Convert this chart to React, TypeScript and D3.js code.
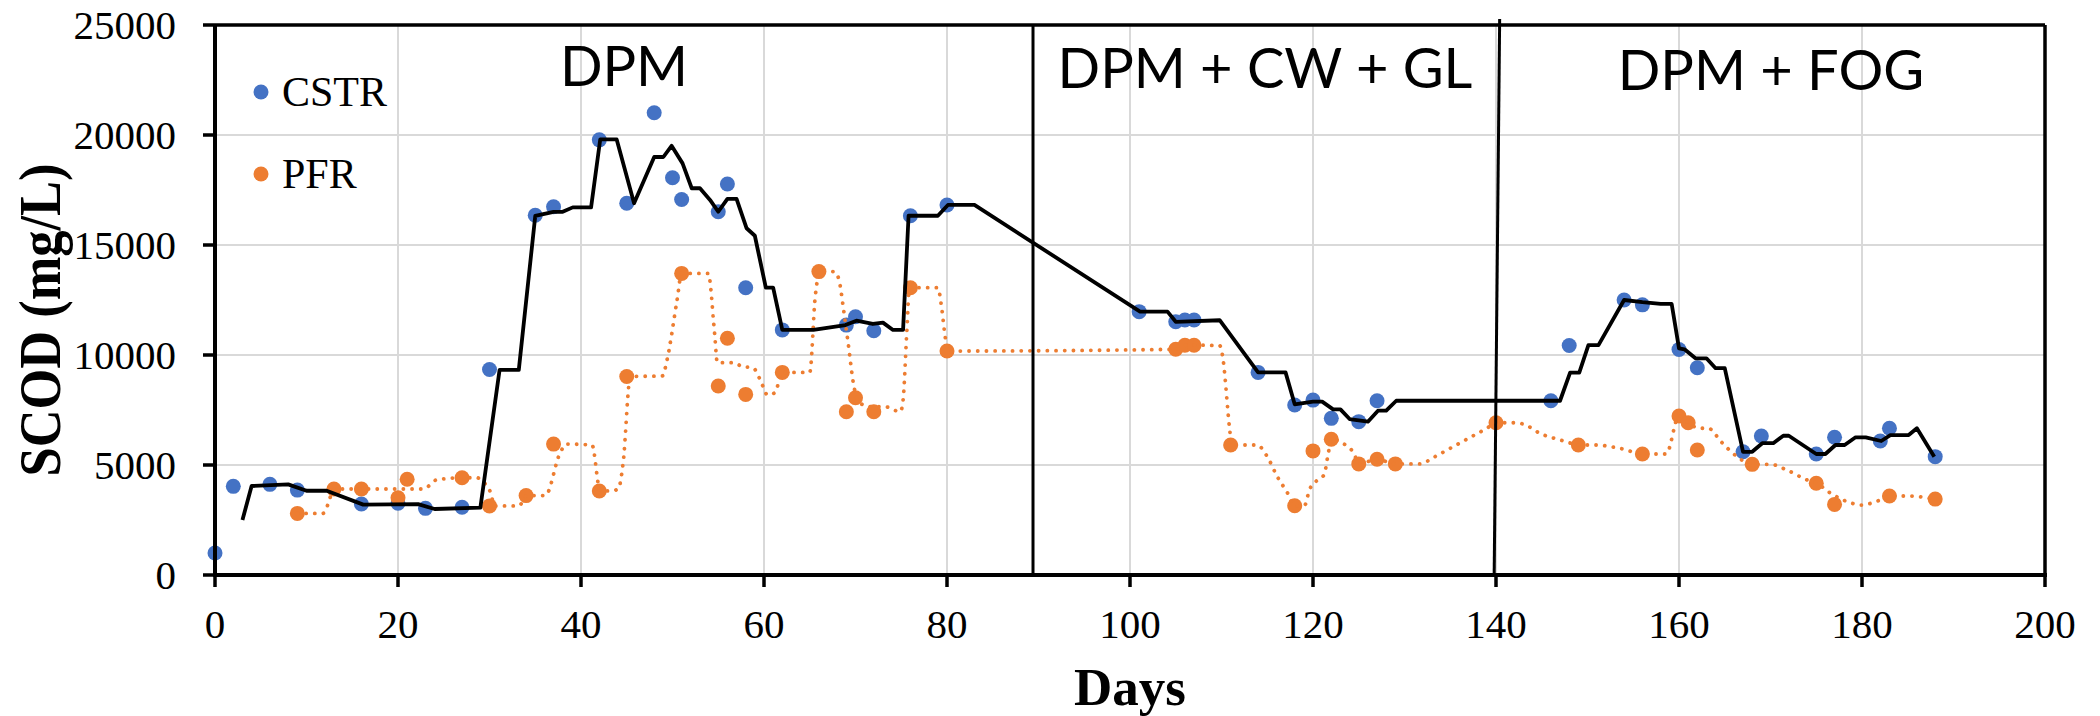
import React from 'react';
import * as d3 from 'd3';

// CSTR measured SCOD (mg/L)
const cstrDays = [0, 2, 6, 9, 16, 20, 23, 27, 30, 35, 37, 42, 45, 48, 50, 51, 55, 56, 58, 62, 69, 70, 72, 76, 80, 101, 105, 106, 107, 114, 118, 120, 122, 125, 127, 146, 148, 154, 156, 160, 162, 167, 169, 175, 177, 182, 183, 188];
const cstrValues = [1000, 4030, 4120, 3860, 3230, 3260, 3030, 3080, 9340, 16350, 16740, 19780, 16900, 21010, 18060, 17070, 16510, 17770, 13060, 11140, 11360, 11740, 11100, 16330, 16820, 11970, 11510, 11590, 11590, 9210, 7730, 7950, 7120, 6970, 7920, 7920, 10430, 12500, 12280, 10250, 9420, 5600, 6320, 5500, 6260, 6090, 6670, 5380];

// PFR measured SCOD (mg/L)
const pfrDays = [9, 13, 16, 20, 21, 27, 30, 34, 37, 42, 45, 51, 55, 56, 58, 62, 66, 69, 70, 72, 76, 80, 105, 106, 107, 111, 118, 120, 122, 125, 127, 129, 140, 149, 156, 160, 161, 162, 168, 175, 177, 183, 188];
const pfrValues = [2800, 3910, 3910, 3510, 4350, 4420, 3140, 3610, 5950, 3820, 9020, 13710, 8590, 10760, 8210, 9210, 13790, 7420, 8060, 7420, 13060, 10180, 10260, 10440, 10440, 5910, 3150, 5640, 6170, 5050, 5260, 5050, 6920, 5910, 5500, 7230, 6920, 5680, 5030, 4170, 3210, 3590, 3450];

// trend line of CSTR (solid black)
const cstrTrendDays = [3, 4, 8, 10, 12.2, 16.2, 22.2, 24, 29, 31.1, 33.2, 35, 37, 38, 39.1, 41.1, 42.1, 43.9, 45.8, 48, 49, 49.9, 51.1, 52.1, 53, 54.1, 55, 56, 57, 58.1, 59, 60.2, 61, 62, 65.4, 68.9, 70.1, 71.9, 73, 74.1, 75.2, 75.8, 79, 80.1, 83, 101.1, 104.1, 105, 109.8, 114, 117, 118, 120, 121, 122.2, 123, 124, 126, 127.1, 128, 129.1, 147, 148.1, 149.1, 150.1, 151.2, 154, 156, 158, 159.2, 160, 160.6, 161.8, 163, 164, 165, 167, 168, 169.1, 170.3, 171.4, 172, 175, 176, 177.1, 178.1, 179.3, 180.4, 182.1, 183.1, 185.1, 186, 187.9];
const cstrTrendValues = [2500, 4045, 4120, 3830, 3830, 3200, 3220, 3000, 3060, 9320, 9320, 16320, 16510, 16510, 16710, 16710, 19800, 19800, 16900, 19000, 19000, 19510, 18710, 17580, 17580, 17050, 16510, 17100, 17100, 15760, 15420, 13060, 13060, 11140, 11140, 11360, 11560, 11410, 11470, 11140, 11140, 16330, 16330, 16820, 16820, 11970, 11970, 11510, 11580, 9210, 9210, 7760, 7880, 7880, 7530, 7530, 7090, 6970, 7470, 7470, 7920, 7920, 9200, 9200, 10450, 10450, 12500, 12400, 12320, 12320, 10300, 10260, 9850, 9850, 9400, 9400, 5600, 5600, 5990, 5990, 6330, 6330, 5500, 5500, 5910, 5910, 6260, 6260, 6090, 6360, 6360, 6670, 5380];

// trend line of PFR (orange dotted)
const pfrTrendDays = [9, 11.8, 13.1, 18.8, 22.8, 24.2, 27, 28.6, 29.3, 30.2, 30.5, 33.2, 34.1, 36.1, 37.7, 38.4, 41.2, 42.1, 43.4, 44.1, 44.6, 45.4, 48.9, 49.4, 50.5, 51, 53.9, 54.6, 54.9, 56.8, 57.6, 58.8, 59.6, 60.4, 61.2, 62, 65, 65.6, 66.1, 67.7, 68.2, 68.7, 69.2, 69.8, 70.5, 71.9, 73.2, 74.9, 75.2, 75.6, 75.9, 79, 79.4, 79.8, 80.1, 105, 106.2, 109.8, 110.1, 110.9, 111.1, 113.9, 115, 116.1, 117.2, 118, 119.1, 119.6, 120.5, 121.2, 121.7, 122, 123.2, 124.5, 125, 127, 129, 131.7, 133.2, 135, 137.2, 139, 140, 141.9, 143, 144.8, 147, 149.3, 150.8, 153.5, 156.2, 158.6, 160, 161, 162.2, 163.2, 164.6, 165.9, 168.1, 170, 171.8, 174, 175.1, 176.3, 177.5, 178.9, 179.9, 182, 183.1, 185.1, 187.9];
const pfrTrendValues = [2800, 2800, 3910, 3910, 3910, 4320, 4420, 4420, 4240, 3640, 3140, 3140, 3610, 3610, 5530, 5950, 5910, 3820, 3820, 3940, 5080, 9020, 9050, 9770, 12500, 13710, 13710, 10990, 9650, 9650, 9470, 9420, 8860, 8180, 8290, 9210, 9210, 12650, 13790, 13790, 13410, 12050, 10530, 8640, 7800, 7650, 7650, 7420, 7950, 10990, 13060, 13060, 12200, 10830, 10180, 10260, 10450, 10430, 10000, 6590, 5910, 5910, 5380, 4470, 3740, 3150, 3180, 3860, 4320, 4545, 5600, 6170, 6000, 5500, 5050, 5260, 5050, 5050, 5350, 5760, 6260, 6670, 6920, 6920, 6860, 6440, 6140, 5910, 5910, 5760, 5500, 5500, 7230, 6920, 6670, 6670, 6060, 5530, 5030, 5030, 4770, 4320, 4170, 3790, 3500, 3260, 3180, 3410, 3590, 3590, 3450];

const xTicks = [0, 20, 40, 60, 80, 100, 120, 140, 160, 180, 200];
const yTicks = [0, 5000, 10000, 15000, 20000, 25000];

// feedstock phases, bounded by drawn separators (top / bottom day of each separator)
const phaseNames = ['DPM', 'DPM + CW + GL', 'DPM + FOG'];
const breakTopDays = [89.4, 140.4];
const breakBottomDays = [89.4, 139.8];

const seriesNames = ['CSTR', 'PFR'];
const seriesColors = ['#4472C4', '#ED7D31'];

const W = 2100;
const H = 716;
const margin = { top: 25, right: 55, bottom: 141, left: 215 };
const serif = '"Liberation Serif", "Times New Roman", serif';
const sans = 'Lato, Calibri, "Noto Sans", sans-serif';

export default function App() {
  const x = d3.scaleLinear().domain([0, 200]).range([margin.left, W - margin.right]);
  const y = d3.scaleLinear().domain([0, 25000]).range([H - margin.bottom, margin.top]);
  const x0 = x(0), x1 = x(200), y0 = y(0), y1 = y(25000);

  const cstrPts = cstrDays.map((d, i) => [d, cstrValues[i]]);
  const pfrPts = pfrDays.map((d, i) => [d, pfrValues[i]]);
  const cstrTrend = cstrTrendDays.map((d, i) => [d, cstrTrendValues[i]]);
  const pfrTrend = pfrTrendDays.map((d, i) => [d, pfrTrendValues[i]]);

  const solid = d3.line<number[]>().x(d => x(d[0])).y(d => y(d[1]));
  const smooth = d3.line<number[]>().x(d => x(d[0])).y(d => y(d[1])).curve(d3.curveMonotoneX);

  // label each phase at the middle of its day range
  const bounds = [0, ...breakBottomDays.map((b, i) => (b + breakTopDays[i]) / 2), 200];
  const phaseMid = phaseNames.map((_, i) => (bounds[i] + bounds[i + 1]) / 2);
  const phaseBaseline = [86, 88, 90];

  return (
    <svg width={W} height={H} style={{ position: 'absolute', left: 0, top: 0, background: '#fff' }}>
      {/* grid */}
      {yTicks.filter(v => v > 0 && v < 25000).map(v => (
        <line key={'gy' + v} x1={x0} x2={x1} y1={y(v)} y2={y(v)} stroke="#d9d9d9" strokeWidth={2} />
      ))}
      {xTicks.filter(v => v > 0 && v < 200).map(v => (
        <line key={'gx' + v} x1={x(v)} x2={x(v)} y1={y1} y2={y0} stroke="#d9d9d9" strokeWidth={2} />
      ))}

      {/* markers */}
      {cstrPts.map((d, i) => (
        <circle key={'c' + i} cx={x(d[0])} cy={y(d[1])} r={7.5} fill={seriesColors[0]} />
      ))}
      {pfrPts.map((d, i) => (
        <circle key={'p' + i} cx={x(d[0])} cy={y(d[1])} r={7.5} fill={seriesColors[1]} />
      ))}

      {/* trend lines */}
      <path d={smooth(pfrTrend) || ''} fill="none" stroke={seriesColors[1]} strokeWidth={3.8}
        strokeDasharray="0.1 8.6" strokeLinecap="round" />
      <path d={solid(cstrTrend) || ''} fill="none" stroke="#000" strokeWidth={3.8} strokeLinejoin="round" />

      {/* frame and axes */}
      <line x1={x0} x2={x1} y1={y1} y2={y1} stroke="#000" strokeWidth={3.5} />
      <line x1={x1} x2={x1} y1={y1} y2={y0} stroke="#000" strokeWidth={3.5} />
      <line x1={x0} x2={x0} y1={y1} y2={y0} stroke="#000" strokeWidth={4} />
      <line x1={x0 - 2} x2={x1 + 2} y1={y0} y2={y0} stroke="#000" strokeWidth={4} />
      {yTicks.map(v => (
        <g key={'ty' + v}>
          <line x1={x0 - 12} x2={x0} y1={y(v)} y2={y(v)} stroke="#000" strokeWidth={3.5} />
          <text x={x0 - 39} y={y(v)} dy="0.34em" textAnchor="end" fontFamily={serif} fontSize={41}>{v}</text>
        </g>
      ))}
      {xTicks.map(v => (
        <g key={'tx' + v}>
          <line x1={x(v)} x2={x(v)} y1={y0} y2={y0 + 12} stroke="#000" strokeWidth={3.5} />
          <text x={x(v)} y={638} textAnchor="middle" fontFamily={serif} fontSize={41}>{v}</text>
        </g>
      ))}

      {/* phase separators */}
      {breakTopDays.map((d, i) => (
        <line key={'b' + i} x1={x(d)} x2={x(breakBottomDays[i])} y1={i === 0 ? y1 : y1 - 6} y2={y0}
          stroke="#000" strokeWidth={3} />
      ))}
      {phaseNames.map((n, i) => (
        <text key={n} x={x(phaseMid[i])} y={phaseBaseline[i]} textAnchor="middle" fontFamily={sans} fontSize={56}>{n}</text>
      ))}

      {/* legend */}
      {seriesNames.map((n, i) => (
        <g key={n} transform={`translate(261,${92 + i * 82})`}>
          <circle r={7.5} fill={seriesColors[i]} />
          <text x={21} y={14} fontFamily={serif} fontSize={42}>{n}</text>
        </g>
      ))}

      {/* axis titles */}
      <text x={(x0 + x1) / 2} y={705} textAnchor="middle" fontFamily={serif} fontWeight="bold" fontSize={53}>Days</text>
      <text transform={`translate(60,${320}) rotate(-90)`} textAnchor="middle" fontFamily={serif}
        fontWeight="bold" fontSize={60} textLength={313} lengthAdjust="spacingAndGlyphs">SCOD (mg/L)</text>
    </svg>
  );
}
